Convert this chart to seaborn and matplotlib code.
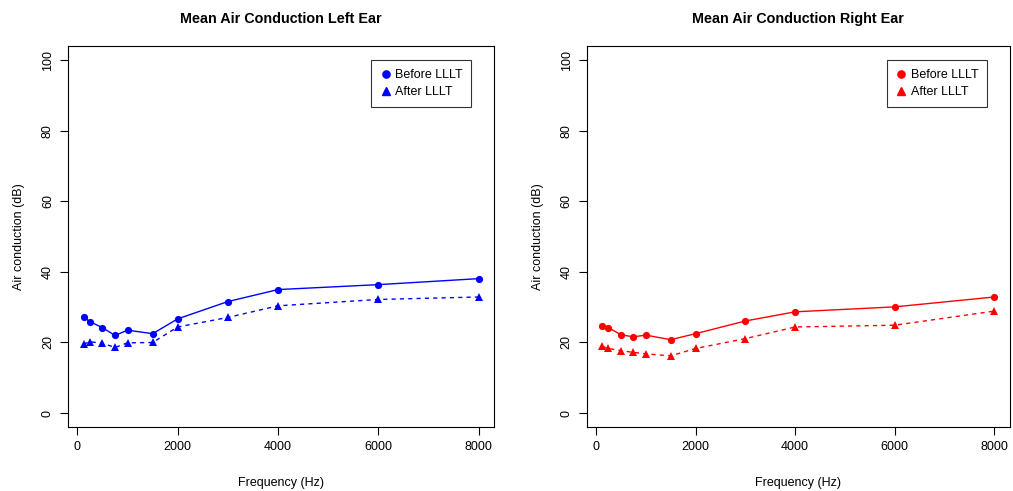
import numpy as np
import pandas as pd
import matplotlib
matplotlib.use("Agg")
import matplotlib.pyplot as plt
from matplotlib.lines import Line2D
import seaborn as sns

# DADOS
freqs = [125, 250, 500, 750, 1000, 1500, 2000, 3000, 4000, 6000, 8000]

left_before = [27.2, 25.9, 24.2, 22.0, 23.5, 22.5, 26.7, 31.6, 35.0, 36.4, 38.1]
left_after = [19.6, 20.2, 19.8, 18.6, 19.9, 20.0, 24.4, 27.1, 30.4, 32.2, 32.9]

right_before = [24.8, 24.2, 22.2, 21.6, 22.1, 20.8, 22.5, 26.1, 28.7, 30.1, 32.9]
right_after = [18.9, 18.3, 17.7, 17.2, 16.8, 16.2, 18.3, 21.1, 24.4, 24.9, 28.9]

titles = ["Mean Air Conduction Left Ear", "Mean Air Conduction Right Ear"]
labels = ["Before LLLT", "After LLLT"]

sns.set_theme(style="ticks")
plt.rcParams.update({
    "font.family": ["Liberation Sans", "DejaVu Sans"],
    "axes.edgecolor": "black",
    "axes.linewidth": 0.8,
    "xtick.color": "black",
    "ytick.color": "black",
    "text.color": "black",
    "axes.labelcolor": "black",
})

fig = plt.figure(figsize=(10.13, 4.91), dpi=100)
ax_l = fig.add_axes([0.067, 0.130, 0.421, 0.776])
ax_r = fig.add_axes([0.579, 0.130, 0.418, 0.776])

painéis = [
    (ax_l, left_before, left_after, "blue", titles[0]),
    (ax_r, right_before, right_after, "red", titles[1]),
]

for ax, before, after, cor, titulo in painéis:
    df = pd.DataFrame({"freq": freqs, "before": before, "after": after})

    sns.lineplot(data=df, x="freq", y="before", ax=ax, color=cor,
                 linewidth=1.0, marker="o", markersize=5.2,
                 markeredgewidth=0, markeredgecolor=cor)
    sns.lineplot(data=df, x="freq", y="after", ax=ax, color=cor,
                 linewidth=1.0, linestyle=(0, (3, 3)), marker="^",
                 markersize=5.5, markeredgewidth=0, markeredgecolor=cor)

    ax.set_xlim(-190, 8315)
    ax.set_ylim(-4, 104)
    ax.set_xticks([0, 2000, 4000, 6000, 8000])
    ax.set_yticks([0, 20, 40, 60, 80, 100])
    ax.tick_params(axis="both", direction="out", length=6, width=0.8,
                   labelsize=9, pad=4)
    for lab in ax.get_yticklabels():
        lab.set_rotation(90)
        lab.set_va("center")

    ax.set_xlabel("Frequency (Hz)", fontsize=9, labelpad=17)
    ax.set_ylabel("Air conduction (dB)", fontsize=9, labelpad=12)
    ax.set_title(titulo, fontsize=10.4, fontweight="bold", pad=17)

    for s in ax.spines.values():
        s.set_visible(True)
        s.set_color("black")

    handles = [
        Line2D([], [], linestyle="none", marker="o", color=cor, markersize=5.2),
        Line2D([], [], linestyle="none", marker="^", color=cor, markersize=5.5),
    ]
    leg = ax.legend(handles, labels, loc="upper right",
                    bbox_to_anchor=(0.946, 0.963), borderaxespad=0,
                    fontsize=9, frameon=True, fancybox=False,
                    handletextpad=0.3, handlelength=0.9, borderpad=0.7,
                    labelspacing=0.4)
    leg.get_frame().set_edgecolor("black")
    leg.get_frame().set_linewidth(0.8)

plt.savefig("out.png", dpi=100)
